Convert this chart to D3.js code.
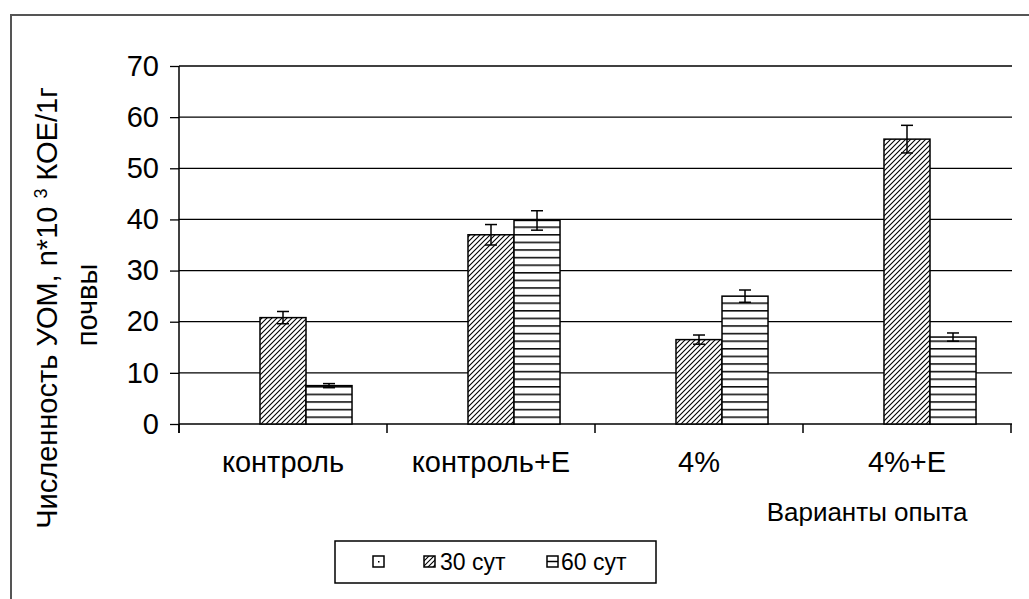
<!DOCTYPE html>
<html><head><meta charset="utf-8">
<script src="https://cdn.jsdelivr.net/npm/d3@7"></script>
<style>
html,body{margin:0;padding:0;background:#fff;}
svg{display:block;}
text{font-family:"Liberation Sans",Arial,sans-serif;fill:#000;}
</style></head>
<body>
<script>
// ---- data ----
const categories = ["контроль", "контроль+Е", "4%", "4%+Е"];
const seriesNames = ["", "30 сут", "60 сут"];
const values30 = [20.8, 37.0, 16.5, 55.7];
const errors30 = [1.2, 2.0, 0.9, 2.7];
const values60 = [7.5, 39.8, 25.0, 17.0];
const errors60 = [0.4, 1.9, 1.2, 0.8];
const yTicks = [0, 10, 20, 30, 40, 50, 60, 70];
const xTitle = "Варианты опыта";
const yTitle1a = "Численность УОМ, n*10 ";
const yTitleSup = "3";
const yTitle1b = " КОЕ/1г";
const yTitle2 = "почвы";

(function () {
const W = 1029, H = 599;
const svg = d3.select("body").append("svg").attr("width", W).attr("height", H);

const FAXIS = 29, FXT = 26, FLEG = 23;
const pL = 179, pR = 1011, pT = 66, pB = 424;

// patterns
const defs = svg.append("defs");
const pDiag = defs.append("pattern").attr("id", "diag").attr("patternUnits", "userSpaceOnUse")
  .attr("width", 5).attr("height", 5);
pDiag.append("rect").attr("width", 5).attr("height", 5).attr("fill", "#fff");
pDiag.append("path").attr("d", "M-1,1 l2,-2 M0,5 l5,-5 M4,6 l2,-2")
  .attr("stroke", "#000").attr("stroke-width", 1.1);
const pHor = defs.append("pattern").attr("id", "hor").attr("patternUnits", "userSpaceOnUse")
  .attr("width", 8).attr("height", 7.6).attr("y", pB);
pHor.append("rect").attr("width", 8).attr("height", 7.6).attr("fill", "#fff");
pHor.append("line").attr("x1", 0).attr("x2", 8).attr("y1", 0.8).attr("y2", 0.8)
  .attr("stroke", "#000").attr("stroke-width", 1.5);

// outer frame
svg.append("path").attr("d", `M11,${H + 5} L11,15 L${W + 5},15`)
  .attr("fill", "none").attr("stroke", "#555").attr("stroke-width", 2);

// scales
const y = d3.scaleLinear().domain([0, 70]).range([pB, pT]);
const x0 = d3.scaleBand().domain(categories).range([pL, pR]).paddingInner(0).paddingOuter(0);
const x1 = d3.scaleBand().domain(seriesNames).range([0, x0.bandwidth()]).paddingInner(0).paddingOuter(0.76);

// gridlines
svg.append("g").selectAll("line").data(yTicks.filter(d => d > 0)).join("line")
  .attr("x1", pL).attr("x2", pR + 1)
  .attr("y1", d => y(d)).attr("y2", d => y(d))
  .attr("stroke", "#000").attr("stroke-width", 1.3);

// y axis
const yAxis = svg.append("g").attr("transform", `translate(${pL},0)`)
  .call(d3.axisLeft(y).tickValues(yTicks).tickSize(9).tickPadding(11));
yAxis.select(".domain").remove();
yAxis.selectAll(".tick line").attr("stroke", "#000").attr("stroke-width", 1.3);
yAxis.selectAll("text").attr("font-size", FAXIS).attr("font-family", '"Liberation Sans",Arial,sans-serif').attr("fill", "#000");
svg.append("line").attr("x1", pL).attr("x2", pL).attr("y1", pT).attr("y2", pB + 9)
  .attr("stroke", "#000").attr("stroke-width", 1.5);

// x axis
svg.append("line").attr("x1", pL).attr("x2", pR + 1).attr("y1", pB).attr("y2", pB)
  .attr("stroke", "#000").attr("stroke-width", 1.5);
const boundaries = categories.map(c => x0(c)).concat([x0(categories[categories.length - 1]) + x0.bandwidth()]);
svg.append("g").selectAll("line").data(boundaries).join("line")
  .attr("x1", d => d).attr("x2", d => d).attr("y1", pB).attr("y2", pB + 9)
  .attr("stroke", "#000").attr("stroke-width", 1.5);
svg.append("g").selectAll("text").data(categories).join("text")
  .attr("x", d => x0(d) + x0.bandwidth() / 2).attr("y", 472)
  .attr("text-anchor", "middle").attr("font-size", FAXIS).text(d => d);

// bars
const barData = [];
categories.forEach((c, i) => {
  barData.push({cat: c, s: seriesNames[1], v: values30[i], e: errors30[i], fill: "url(#diag)"});
  barData.push({cat: c, s: seriesNames[2], v: values60[i], e: errors60[i], fill: "url(#hor)"});
});
svg.append("g").selectAll("rect").data(barData).join("rect")
  .attr("x", d => x0(d.cat) + x1(d.s)).attr("width", x1.bandwidth())
  .attr("y", d => y(d.v)).attr("height", d => y(0) - y(d.v))
  .attr("fill", d => d.fill).attr("stroke", "#000").attr("stroke-width", 1.5);

// error bars
const eb = svg.append("g").attr("stroke", "#000").attr("stroke-width", 1.5);
barData.forEach(d => {
  const cx = x0(d.cat) + x1(d.s) + x1.bandwidth() / 2;
  eb.append("line").attr("x1", cx).attr("x2", cx).attr("y1", y(d.v + d.e)).attr("y2", y(d.v - d.e));
  eb.append("line").attr("x1", cx - 6).attr("x2", cx + 6).attr("y1", y(d.v + d.e)).attr("y2", y(d.v + d.e));
  eb.append("line").attr("x1", cx - 6).attr("x2", cx + 6).attr("y1", y(d.v - d.e)).attr("y2", y(d.v - d.e));
});

// axis titles
svg.append("text").attr("x", 867).attr("y", 521).attr("text-anchor", "middle")
  .attr("font-size", FXT).text(xTitle);

const t1 = svg.append("text").attr("transform", "translate(57,308) rotate(-90)")
  .attr("text-anchor", "middle").attr("font-size", FAXIS);
t1.append("tspan").text(yTitle1a);
t1.append("tspan").attr("dy", -10).attr("font-size", FAXIS * 0.62).text(yTitleSup);
t1.append("tspan").attr("dy", 10).text(yTitle1b);
svg.append("text").attr("transform", "translate(97,305) rotate(-90)")
  .attr("text-anchor", "middle").attr("font-size", FAXIS).text(yTitle2);

// legend
const lg = svg.append("g");
lg.append("rect").attr("x", 335).attr("y", 541).attr("width", 321).attr("height", 42)
  .attr("fill", "#fff").attr("stroke", "#000").attr("stroke-width", 1.5);
const legItems = [
  {name: seriesNames[0], sx: 373, tx: 0},
  {name: seriesNames[1], sx: 424, tx: 440},
  {name: seriesNames[2], sx: 547, tx: 561}
];
legItems.forEach((d, i) => {
  lg.append("rect").attr("x", d.sx).attr("y", 556).attr("width", 11).attr("height", 11)
    .attr("fill", i === 1 ? "url(#diag)" : "#fff").attr("stroke", "#000").attr("stroke-width", 1.5);
  if (i === 0) lg.append("rect").attr("x", d.sx + 5).attr("y", 561).attr("width", 1.5).attr("height", 1.5).attr("fill", "#000");
  if (i === 2) lg.append("line").attr("x1", d.sx).attr("x2", d.sx + 11).attr("y1", 561.5).attr("y2", 561.5)
    .attr("stroke", "#000").attr("stroke-width", 1.5);
  if (d.name) lg.append("text").attr("x", d.tx).attr("y", 570).attr("font-size", FLEG).text(d.name);
});
})();
</script>
</body></html>
